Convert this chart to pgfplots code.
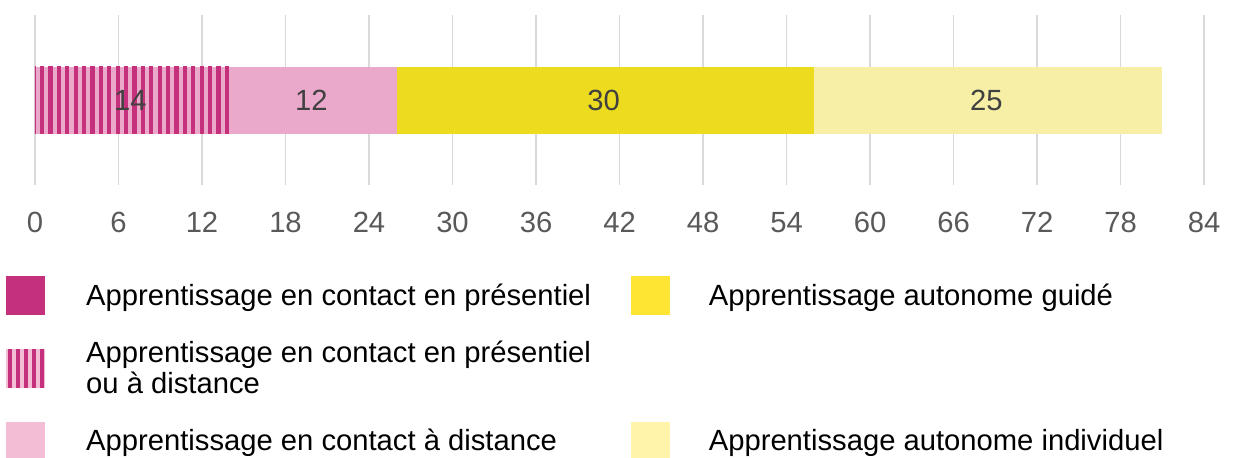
\documentclass[border=0pt]{standalone}
\usepackage{pgfplots}
\pgfplotsset{compat=1.18}
\usepackage{fontspec}
\setmainfont{Liberation Sans}
\usetikzlibrary{patterns.meta}
\definecolor{mag}{HTML}{C5307D}
\definecolor{pinkbar}{HTML}{EAA9CB}
\definecolor{pinkleg}{HTML}{F2BDD5}
\definecolor{yelbar}{HTML}{ECDB1E}
\definecolor{yelleg}{HTML}{FFE533}
\definecolor{lyelbar}{HTML}{F7EFA6}
\definecolor{lyelleg}{HTML}{FFF4AA}
\definecolor{gridgray}{HTML}{D9D9D9}
\definecolor{ticktext}{HTML}{595959}
\definecolor{valtext}{HTML}{404040}
\newcommand{\fs}{\fontsize{14.6}{15.6}\selectfont}
\begin{document}
\begin{tikzpicture}
\begin{axis}[
  at={(17.5pt,-92.5pt)}, anchor=south west,
  scale only axis, width=584.5pt, height=85pt,
  xbar stacked, bar width=33.5pt,
  xmin=0, xmax=84, ymin=-1, ymax=1,
  xtick={0,6,...,84}, ytick=\empty,
  /pgf/number format/assume math mode=true,
  xmajorgrids, grid style={draw=gridgray, line width=0.8pt},
  axis line style={draw=none}, tick style={draw=none},
  ticklabel style={font=\fs, text=ticktext},
  xticklabel style={yshift=-10pt},
  nodes near coords,
  every node near coord/.append style={font=\fs, text=valtext, anchor=center, xshift=-1pt},
  legend columns=2,
  legend style={draw=none, at={(-17.5pt,-43.5pt)}, anchor=north west,
    font=\fs, row sep=12.8pt,
    nodes={inner sep=0pt},
    /tikz/column 2/.style={column sep=20pt},
    /tikz/column 1/.style={column sep=20.5pt},
    /tikz/column 3/.style={column sep=19.5pt}},
  legend cell align=left,
]
\addplot[draw=none, fill=pinkbar, postaction={pattern={Lines[angle=90,distance=4.2pt,line width=2.1pt]}, pattern color=mag}, forget plot] coordinates {(14,0)};
\addplot[draw=none, fill=pinkbar, forget plot] coordinates {(12,0)};
\addplot[draw=none, fill=yelbar, forget plot] coordinates {(30,0)};
\addplot[draw=none, fill=lyelbar, forget plot] coordinates {(25,0)};
\addlegendimage{legend image code/.code={\fill[mag] (0pt,-9.5pt) rectangle (19pt,9.5pt);}}
\addlegendentry{Apprentissage en contact en présentiel}
\addlegendimage{legend image code/.code={\fill[yelleg] (0pt,-9.5pt) rectangle (19pt,9.5pt);}}
\addlegendentry{Apprentissage autonome guidé}
\addlegendimage{legend image code/.code={\fill[pinkleg] (0pt,-9.5pt) rectangle (19pt,9.5pt);
   \fill[mag] (1pt,-9.5pt) rectangle (2.5pt,9.5pt);
   \fill[mag] (5pt,-9.5pt) rectangle (6.5pt,9.5pt);
   \fill[mag] (9pt,-9.5pt) rectangle (10.5pt,9.5pt);
   \fill[mag] (13pt,-9.5pt) rectangle (14.5pt,9.5pt);
   \fill[mag] (17pt,-9.5pt) rectangle (18.5pt,9.5pt);}}
\addlegendentry[align=left]{Apprentissage en contact en présentiel\\ou à distance}
\addlegendimage{empty legend}
\addlegendentry{}
\addlegendimage{legend image code/.code={\fill[pinkleg] (0pt,-9.5pt) rectangle (19pt,9.5pt);}}
\addlegendentry{Apprentissage en contact à distance}
\addlegendimage{legend image code/.code={\fill[lyelleg] (0pt,-9.5pt) rectangle (19pt,9.5pt);}}
\addlegendentry{Apprentissage autonome individuel}
\end{axis}
\pgfresetboundingbox
\path[use as bounding box] (0,0) rectangle (618pt,-228.5pt);
\end{tikzpicture}
\end{document}
